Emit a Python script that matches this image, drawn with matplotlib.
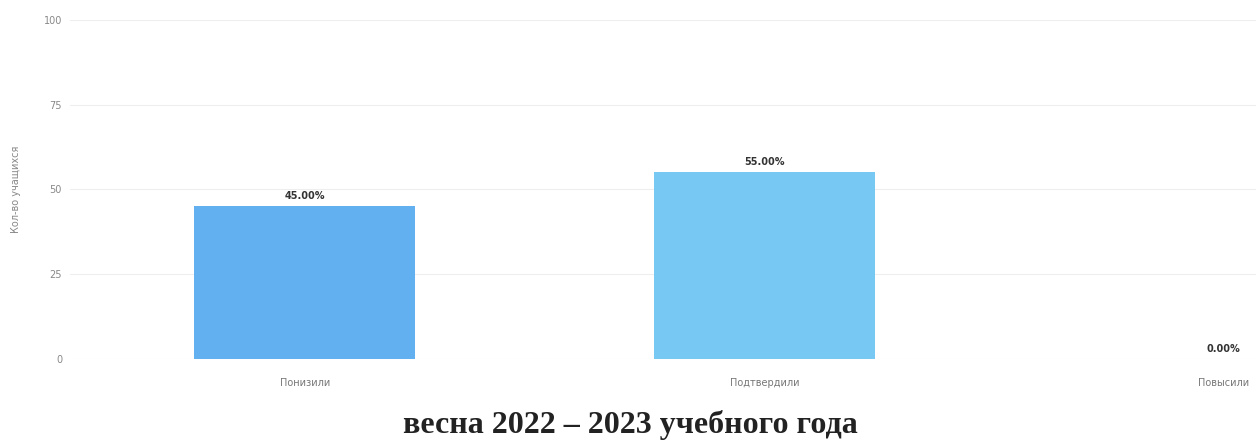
import matplotlib
matplotlib.use('Agg')
import matplotlib.pyplot as plt

# данные
categories = ['Понизили', 'Подтвердили', 'Повысили']
values = [45.0, 55.0, 0.0]
bar_colors = ['#62b0f0', '#78c8f4', '#78c8f4']
y_ticks = [0, 25, 50, 75, 100]
title = 'весна 2022 – 2023 учебного года'

plt.rcParams['font.family'] = ['DejaVu Sans']

fig = plt.figure(figsize=(12.56, 4.43), dpi=100)
ax = fig.add_axes([0.056, 0.19, 0.944, 0.765])

x = list(range(len(categories)))
bars = ax.bar(x, values, width=0.48, color=bar_colors, zorder=2)

# подписи значений
for xi, v in zip(x, values):
    ax.text(xi, v + 1.5, f'{v:.2f}%', ha='center', va='bottom',
            fontsize=7, color='#333333', fontweight='bold')

ax.set_xlim(-0.51, 2.07)
ax.set_ylim(0, 100)
ax.set_yticks(y_ticks)
ax.set_xticks(x)
ax.set_xticklabels(categories, fontsize=7, color='#777777')
ax.tick_params(axis='y', labelsize=7, labelcolor='#888888', length=0, pad=6)
ax.tick_params(axis='x', length=0, pad=14)
ax.set_ylabel('Кол-во учащихся', fontsize=7, color='#888888', labelpad=16)

ax.grid(axis='y', color='#eeeeee', linewidth=0.8, zorder=0)
for s in ax.spines.values():
    s.set_visible(False)

fig.text(0.502, 0.04, title, ha='center', va='center', fontsize=23,
         fontweight='bold', family='Liberation Serif', color='#222222')

fig.savefig('out.png', dpi=100)
